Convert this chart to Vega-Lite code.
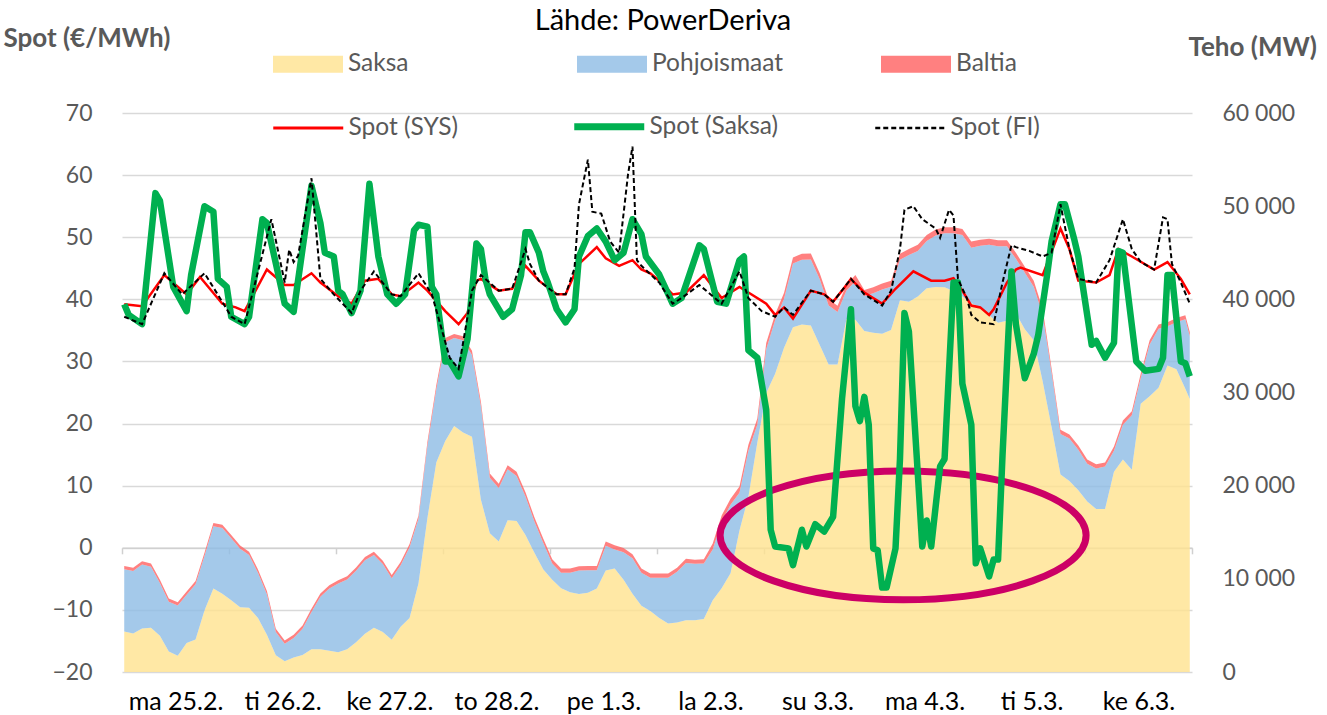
{
 "$schema": "https://vega.github.io/schema/vega-lite/v6.json",
 "width": 1070, "height": 559,
 "autosize": {"type": "none"},
 "padding": {"left": 122, "top": 113, "right": 135, "bottom": 43},
 "background": "white",
 "title": {"text": "Lähde: PowerDeriva", "font": "Lato", "fontSize": 29, "fontWeight": "normal", "color": "#000000", "anchor": "middle", "frame": "group", "dx": 6, "offset": -11},
 "config": {"view": {"stroke": null}, "font": "Lato"},
 "datasets": {
  "areas": [
   {"h":0,"Saksa":4340,"Pohjoismaat":6680,"Baltia":350},{"h":2,"Saksa":4130,"Pohjoismaat":6720,"Baltia":350},{"h":4,"Saksa":4680,"Pohjoismaat":6870,"Baltia":350},{"h":6,"Saksa":4740,"Pohjoismaat":6560,"Baltia":350},{"h":8,"Saksa":3900,"Pohjoismaat":5650,"Baltia":350},{"h":10,"Saksa":2200,"Pohjoismaat":5350,"Baltia":350},{"h":12,"Saksa":1750,"Pohjoismaat":5380,"Baltia":350},{"h":14,"Saksa":3100,"Pohjoismaat":5180,"Baltia":350},{"h":16,"Saksa":3500,"Pohjoismaat":5930,"Baltia":350},{"h":18,"Saksa":6600,"Pohjoismaat":5850,"Baltia":350},
   {"h":20,"Saksa":8960,"Pohjoismaat":6690,"Baltia":350},{"h":22,"Saksa":8400,"Pohjoismaat":7050,"Baltia":350},{"h":24,"Saksa":7700,"Pohjoismaat":6650,"Baltia":350},{"h":26,"Saksa":6950,"Pohjoismaat":6280,"Baltia":350},{"h":28,"Saksa":6900,"Pohjoismaat":5650,"Baltia":350},{"h":30,"Saksa":5800,"Pohjoismaat":4850,"Baltia":350},{"h":32,"Saksa":4000,"Pohjoismaat":4350,"Baltia":350},{"h":34,"Saksa":1800,"Pohjoismaat":2490,"Baltia":350},{"h":36,"Saksa":1150,"Pohjoismaat":1880,"Baltia":350},{"h":38,"Saksa":1560,"Pohjoismaat":2090,"Baltia":350},
   {"h":40,"Saksa":1830,"Pohjoismaat":2820,"Baltia":350},{"h":42,"Saksa":2450,"Pohjoismaat":4000,"Baltia":350},{"h":44,"Saksa":2450,"Pohjoismaat":5620,"Baltia":350},{"h":46,"Saksa":2280,"Pohjoismaat":6670,"Baltia":350},{"h":48,"Saksa":2130,"Pohjoismaat":7370,"Baltia":350},{"h":50,"Saksa":2430,"Pohjoismaat":7510,"Baltia":350},{"h":52,"Saksa":3200,"Pohjoismaat":7670,"Baltia":350},{"h":54,"Saksa":4100,"Pohjoismaat":7900,"Baltia":350},{"h":56,"Saksa":4740,"Pohjoismaat":7810,"Baltia":350},{"h":58,"Saksa":4300,"Pohjoismaat":7300,"Baltia":350},
   {"h":60,"Saksa":3450,"Pohjoismaat":6600,"Baltia":350},{"h":62,"Saksa":4850,"Pohjoismaat":6600,"Baltia":350},{"h":64,"Saksa":5800,"Pohjoismaat":7600,"Baltia":350},{"h":66,"Saksa":9500,"Pohjoismaat":6950,"Baltia":350},{"h":68,"Saksa":16500,"Pohjoismaat":7750,"Baltia":450},{"h":70,"Saksa":22500,"Pohjoismaat":7850,"Baltia":450},{"h":72,"Saksa":24800,"Pohjoismaat":10600,"Baltia":450},{"h":74,"Saksa":26400,"Pohjoismaat":9440,"Baltia":450},{"h":76,"Saksa":25700,"Pohjoismaat":9900,"Baltia":450},{"h":78,"Saksa":25240,"Pohjoismaat":8790,"Baltia":450},
   {"h":80,"Saksa":18500,"Pohjoismaat":10050,"Baltia":450},{"h":82,"Saksa":14900,"Pohjoismaat":5950,"Baltia":450},{"h":84,"Saksa":14000,"Pohjoismaat":5750,"Baltia":450},{"h":86,"Saksa":16300,"Pohjoismaat":5450,"Baltia":450},{"h":88,"Saksa":16200,"Pohjoismaat":4850,"Baltia":450},{"h":90,"Saksa":14700,"Pohjoismaat":4150,"Baltia":450},{"h":92,"Saksa":12800,"Pohjoismaat":3350,"Baltia":450},{"h":94,"Saksa":11000,"Pohjoismaat":2850,"Baltia":450},{"h":96,"Saksa":9900,"Pohjoismaat":1750,"Baltia":450},{"h":98,"Saksa":9000,"Pohjoismaat":1650,"Baltia":450},
   {"h":100,"Saksa":8560,"Pohjoismaat":2090,"Baltia":450},{"h":102,"Saksa":8380,"Pohjoismaat":2520,"Baltia":450},{"h":104,"Saksa":8500,"Pohjoismaat":2420,"Baltia":450},{"h":106,"Saksa":8950,"Pohjoismaat":1970,"Baltia":450},{"h":108,"Saksa":10900,"Pohjoismaat":2650,"Baltia":450},{"h":110,"Saksa":11100,"Pohjoismaat":2050,"Baltia":450},{"h":112,"Saksa":9900,"Pohjoismaat":2950,"Baltia":450},{"h":114,"Saksa":8400,"Pohjoismaat":3800,"Baltia":450},{"h":116,"Saksa":7100,"Pohjoismaat":3550,"Baltia":450},{"h":118,"Saksa":6550,"Pohjoismaat":3570,"Baltia":450},
   {"h":120,"Saksa":5800,"Pohjoismaat":4320,"Baltia":450},{"h":122,"Saksa":5200,"Pohjoismaat":4920,"Baltia":450},{"h":124,"Saksa":5300,"Pohjoismaat":5450,"Baltia":450},{"h":126,"Saksa":5550,"Pohjoismaat":6150,"Baltia":450},{"h":128,"Saksa":5550,"Pohjoismaat":6060,"Baltia":450},{"h":130,"Saksa":5700,"Pohjoismaat":5950,"Baltia":450},{"h":132,"Saksa":7700,"Pohjoismaat":5450,"Baltia":650},{"h":134,"Saksa":9000,"Pohjoismaat":7150,"Baltia":650},{"h":136,"Saksa":10600,"Pohjoismaat":7350,"Baltia":650},{"h":138,"Saksa":15200,"Pohjoismaat":4050,"Baltia":650},
   {"h":140,"Saksa":18800,"Pohjoismaat":4950,"Baltia":650},{"h":142,"Saksa":24600,"Pohjoismaat":1950,"Baltia":650},{"h":144,"Saksa":29950,"Pohjoismaat":4700,"Baltia":650},{"h":146,"Saksa":32000,"Pohjoismaat":5750,"Baltia":650},{"h":148,"Saksa":34800,"Pohjoismaat":5250,"Baltia":650},{"h":150,"Saksa":37000,"Pohjoismaat":6850,"Baltia":650},{"h":152,"Saksa":37300,"Pohjoismaat":6950,"Baltia":650},{"h":154,"Saksa":37200,"Pohjoismaat":7080,"Baltia":650},{"h":156,"Saksa":35100,"Pohjoismaat":7050,"Baltia":650},{"h":158,"Saksa":33000,"Pohjoismaat":6350,"Baltia":650},
   {"h":160,"Saksa":33000,"Pohjoismaat":5650,"Baltia":650},{"h":162,"Saksa":37900,"Pohjoismaat":3050,"Baltia":650},{"h":164,"Saksa":37800,"Pohjoismaat":4150,"Baltia":650},{"h":166,"Saksa":36600,"Pohjoismaat":3750,"Baltia":650},{"h":168,"Saksa":36400,"Pohjoismaat":4250,"Baltia":650},{"h":170,"Saksa":36300,"Pohjoismaat":4750,"Baltia":650},{"h":172,"Saksa":36700,"Pohjoismaat":4650,"Baltia":650},{"h":174,"Saksa":39900,"Pohjoismaat":4350,"Baltia":650},{"h":176,"Saksa":39750,"Pohjoismaat":5000,"Baltia":650},{"h":178,"Saksa":40300,"Pohjoismaat":4900,"Baltia":650},
   {"h":180,"Saksa":41200,"Pohjoismaat":5050,"Baltia":650},{"h":182,"Saksa":41315,"Pohjoismaat":5535,"Baltia":650},{"h":184,"Saksa":41300,"Pohjoismaat":5800,"Baltia":650},{"h":186,"Saksa":40900,"Pohjoismaat":6200,"Baltia":650},{"h":188,"Saksa":40300,"Pohjoismaat":6600,"Baltia":650},{"h":190,"Saksa":39600,"Pohjoismaat":5950,"Baltia":650},{"h":192,"Saksa":39100,"Pohjoismaat":6650,"Baltia":650},{"h":194,"Saksa":38300,"Pohjoismaat":7550,"Baltia":650},{"h":196,"Saksa":37500,"Pohjoismaat":8190,"Baltia":650},{"h":198,"Saksa":37700,"Pohjoismaat":7990,"Baltia":650},
   {"h":200,"Saksa":38500,"Pohjoismaat":5850,"Baltia":650},{"h":202,"Saksa":36800,"Pohjoismaat":6050,"Baltia":650},{"h":204,"Saksa":35600,"Pohjoismaat":5750,"Baltia":650},{"h":206,"Saksa":31200,"Pohjoismaat":7150,"Baltia":650},{"h":208,"Saksa":26300,"Pohjoismaat":5850,"Baltia":450},{"h":210,"Saksa":21200,"Pohjoismaat":4350,"Baltia":450},{"h":212,"Saksa":20500,"Pohjoismaat":4550,"Baltia":450},{"h":214,"Saksa":19500,"Pohjoismaat":4350,"Baltia":450},{"h":216,"Saksa":18300,"Pohjoismaat":4050,"Baltia":450},{"h":218,"Saksa":17500,"Pohjoismaat":4350,"Baltia":450},
   {"h":220,"Saksa":17500,"Pohjoismaat":4550,"Baltia":450},{"h":222,"Saksa":21500,"Pohjoismaat":2250,"Baltia":450},{"h":224,"Saksa":22800,"Pohjoismaat":3750,"Baltia":450},{"h":226,"Saksa":21700,"Pohjoismaat":5850,"Baltia":450},{"h":228,"Saksa":28800,"Pohjoismaat":2750,"Baltia":450},{"h":230,"Saksa":29600,"Pohjoismaat":5550,"Baltia":450},{"h":232,"Saksa":30500,"Pohjoismaat":6350,"Baltia":450},{"h":234,"Saksa":32900,"Pohjoismaat":4200,"Baltia":450},{"h":236,"Saksa":32500,"Pohjoismaat":5050,"Baltia":450},{"h":238,"Saksa":30400,"Pohjoismaat":7450,"Baltia":450},
   {"h":239,"Saksa":29300,"Pohjoismaat":6750,"Baltia":450}
  ],
  "sys": [
   {"h":0,"v":39.2},{"h":4,"v":38.9},{"h":9,"v":43.9},{"h":14,"v":40.8},{"h":17,"v":43.6},{"h":22,"v":39.3},{"h":25,"v":38.7},{"h":27,"v":38.1},{"h":32,"v":44.8},{"h":36,"v":42.3},{"h":38,"v":42.3},{"h":42,"v":44.2},{"h":44,"v":42.7},{"h":48,"v":40.5},{"h":51,"v":39.3},{"h":54,"v":43.0},{"h":57,"v":43.3},{"h":60,"v":40.8},{"h":62,"v":40.5},{"h":66,"v":42.7},{"h":68,"v":41.4},{"h":72,"v":38.1},{"h":75,"v":36.0},{"h":77,"v":37.8},{"h":79,"v":43.0},{"h":80,"v":43.3},{"h":84,"v":41.4},{"h":87,"v":41.7},{"h":90,"v":45.4},{"h":93,"v":43.0},{"h":97,"v":40.8},{"h":99,"v":40.8},{"h":102,"v":45.7},{"h":106,"v":48.4},{"h":108,"v":46.6},{"h":111,"v":45.4},{"h":114,"v":46.3},{"h":116,"v":44.8},{"h":118,"v":44.2},{"h":120,"v":43.0},{"h":123,"v":40.8},{"h":126,"v":41.1},{"h":130,"v":43.9},{"h":134,"v":40.2},{"h":138,"v":42.0},{"h":140,"v":41.1},{"h":144,"v":39.3},{"h":146,"v":37.5},{"h":148,"v":38.7},{"h":150,"v":36.9},{"h":154,"v":41.4},{"h":157,"v":40.8},{"h":159,"v":39.6},{"h":161,"v":41.4},{"h":163,"v":43.3},{"h":166,"v":41.1},{"h":170,"v":39.3},{"h":173,"v":41.7},{"h":177,"v":44.5},{"h":181,"v":43.0},{"h":184,"v":43.0},{"h":186,"v":43.4},{"h":188,"v":41.4},{"h":190,"v":39.0},{"h":192,"v":38.7},{"h":194,"v":37.5},{"h":195,"v":38.4},{"h":198,"v":42.7},{"h":200,"v":44.8},{"h":201,"v":45.1},{"h":206,"v":43.9},{"h":210,"v":51.4},{"h":212,"v":48.1},{"h":214,"v":43.0},{"h":218,"v":42.7},{"h":221,"v":43.9},{"h":223,"v":48.1},{"h":226,"v":46.9},{"h":231,"v":44.8},{"h":234,"v":46.0},{"h":237,"v":43.3},{"h":239,"v":40.8}
  ],
  "de": [
   {"h":0,"v":39.2},{"h":1,"v":37.5},{"h":4,"v":36.0},{"h":7,"v":57.1},{"h":8,"v":55.9},{"h":11,"v":42.0},{"h":14,"v":38.1},{"h":15,"v":43.9},{"h":18,"v":55.0},{"h":20,"v":54.1},{"h":21,"v":43.3},{"h":23,"v":42.0},{"h":24,"v":37.2},{"h":27,"v":36.0},{"h":28,"v":37.2},{"h":31,"v":52.9},{"h":32,"v":52.3},{"h":36,"v":39.3},{"h":38,"v":38.0},{"h":42,"v":58.3},{"h":44,"v":52.3},{"h":45,"v":47.5},{"h":47,"v":46.9},{"h":48,"v":41.4},{"h":49,"v":40.8},{"h":51,"v":37.8},{"h":53,"v":41.4},{"h":55,"v":58.6},{"h":57,"v":46.9},{"h":59,"v":40.8},{"h":61,"v":39.3},{"h":63,"v":40.8},{"h":65,"v":51.1},{"h":66,"v":52.0},{"h":68,"v":51.7},{"h":69,"v":42.0},{"h":70,"v":40.8},{"h":72,"v":30.0},{"h":73,"v":30.0},{"h":75,"v":27.6},{"h":77,"v":33.6},{"h":79,"v":49.0},{"h":80,"v":48.1},{"h":81,"v":43.3},{"h":82,"v":40.8},{"h":85,"v":37.2},{"h":87,"v":38.4},{"h":89,"v":43.9},{"h":90,"v":50.8},{"h":91,"v":50.8},{"h":93,"v":47.5},{"h":94,"v":44.5},{"h":95,"v":42.7},{"h":97,"v":38.4},{"h":99,"v":36.3},{"h":101,"v":38.4},{"h":102,"v":46.9},{"h":104,"v":50.2},{"h":106,"v":51.4},{"h":108,"v":49.3},{"h":110,"v":46.3},{"h":112,"v":47.5},{"h":114,"v":52.9},{"h":116,"v":50.5},{"h":117,"v":46.9},{"h":120,"v":44.0},{"h":123,"v":39.3},{"h":125,"v":40.2},{"h":129,"v":48.7},{"h":130,"v":48.1},{"h":133,"v":39.6},{"h":135,"v":39.3},{"h":138,"v":46.3},{"h":139,"v":46.9},{"h":140,"v":31.8},{"h":142,"v":30.6},{"h":144,"v":22.2},{"h":145,"v":2.9},{"h":146,"v":0.2},{"h":149,"v":-0.1},{"h":150,"v":-2.8},{"h":152,"v":2.9},{"h":153,"v":0.2},{"h":155,"v":3.8},{"h":157,"v":2.6},{"h":159,"v":5.0},{"h":161,"v":24.0},{"h":163,"v":38.4},{"h":164,"v":22.8},{"h":165,"v":20.4},{"h":166,"v":24.3},{"h":167,"v":19.8},{"h":168,"v":-0.1},{"h":169,"v":-0.4},{"h":170,"v":-6.4},{"h":171,"v":-6.4},{"h":173,"v":-0.1},{"h":174,"v":14.3},{"h":175,"v":37.8},{"h":176,"v":34.8},{"h":178,"v":11.9},{"h":179,"v":0.2},{"h":180,"v":4.4},{"h":181,"v":0.2},{"h":183,"v":13.1},{"h":184,"v":14.3},{"h":186,"v":42.7},{"h":187,"v":42.7},{"h":188,"v":26.4},{"h":190,"v":19.8},{"h":191,"v":-2.5},{"h":192,"v":-0.1},{"h":194,"v":-4.6},{"h":195,"v":-1.9},{"h":196,"v":-1.9},{"h":197,"v":14.9},{"h":199,"v":44.5},{"h":200,"v":36.0},{"h":202,"v":27.3},{"h":204,"v":31.2},{"h":205,"v":34.2},{"h":207,"v":43.9},{"h":208,"v":49.3},{"h":210,"v":55.3},{"h":211,"v":55.3},{"h":213,"v":49.9},{"h":214,"v":46.9},{"h":217,"v":32.7},{"h":218,"v":33.3},{"h":220,"v":30.6},{"h":222,"v":33.0},{"h":223,"v":47.8},{"h":224,"v":47.5},{"h":227,"v":30.0},{"h":229,"v":28.5},{"h":232,"v":28.8},{"h":233,"v":30.6},{"h":234,"v":43.9},{"h":235,"v":43.9},{"h":237,"v":30.0},{"h":238,"v":29.7},{"h":239,"v":27.6}
  ],
  "fi": [
   {"h":0,"v":37.2},{"h":4,"v":36.0},{"h":9,"v":44.2},{"h":13,"v":40.8},{"h":18,"v":44.2},{"h":22,"v":39.6},{"h":24,"v":37.2},{"h":27,"v":36.0},{"h":33,"v":52.9},{"h":36,"v":42.7},{"h":37,"v":48.0},{"h":38,"v":46.0},{"h":39,"v":47.0},{"h":42,"v":59.5},{"h":44,"v":43.3},{"h":47,"v":40.8},{"h":51,"v":37.8},{"h":53,"v":41.4},{"h":56,"v":44.5},{"h":60,"v":40.8},{"h":62,"v":40.5},{"h":66,"v":44.2},{"h":69,"v":40.8},{"h":73,"v":30.6},{"h":75,"v":28.8},{"h":78,"v":41.4},{"h":80,"v":43.9},{"h":84,"v":41.4},{"h":87,"v":41.7},{"h":90,"v":48.1},{"h":91,"v":45.7},{"h":93,"v":43.0},{"h":97,"v":40.8},{"h":99,"v":40.8},{"h":101,"v":45.0},{"h":102,"v":55.3},{"h":104,"v":62.5},{"h":105,"v":54.1},{"h":107,"v":53.8},{"h":109,"v":49.3},{"h":111,"v":47.5},{"h":113,"v":60.1},{"h":114,"v":64.6},{"h":115,"v":46.3},{"h":116,"v":45.4},{"h":120,"v":42.7},{"h":123,"v":39.3},{"h":125,"v":40.2},{"h":129,"v":42.3},{"h":134,"v":39.3},{"h":138,"v":44.5},{"h":140,"v":40.2},{"h":143,"v":38.1},{"h":146,"v":37.2},{"h":148,"v":38.7},{"h":150,"v":37.5},{"h":154,"v":41.4},{"h":157,"v":40.8},{"h":159,"v":39.6},{"h":163,"v":43.3},{"h":166,"v":40.8},{"h":170,"v":39.0},{"h":172,"v":41.4},{"h":174,"v":48.1},{"h":175,"v":54.4},{"h":177,"v":55.0},{"h":179,"v":52.9},{"h":182,"v":51.4},{"h":183,"v":49.9},{"h":185,"v":54.4},{"h":186,"v":53.5},{"h":187,"v":43.3},{"h":189,"v":40.2},{"h":190,"v":37.5},{"h":192,"v":36.3},{"h":195,"v":36.0},{"h":197,"v":42.7},{"h":199,"v":48.7},{"h":200,"v":48.4},{"h":203,"v":47.8},{"h":206,"v":46.9},{"h":208,"v":47.5},{"h":210,"v":55.3},{"h":212,"v":48.1},{"h":214,"v":43.3},{"h":218,"v":42.7},{"h":221,"v":46.3},{"h":224,"v":52.9},{"h":226,"v":48.1},{"h":228,"v":46.0},{"h":231,"v":44.8},{"h":233,"v":53.2},{"h":234,"v":52.9},{"h":235,"v":45.7},{"h":237,"v":42.7},{"h":239,"v":39.3}
  ],
  "ring": [{"h":174.7,"v":2}]
 },
 "layer": [
  {
   "data": {"name": "areas"},
   "transform": [{"fold": ["Saksa", "Pohjoismaat", "Baltia"], "as": ["key", "mw"]}],
   "mark": {"type": "area", "opacity": 0.8, "interpolate": "linear"},
   "encoding": {
    "x": {"field": "h", "type": "quantitative", "scale": {"domain": [-0.5, 239.5], "nice": false, "zero": false},
     "axis": {"orient": "bottom", "values": [11.5, 35.5, 59.5, 83.5, 107.5, 131.5, 155.5, 179.5, 203.5, 227.5],
      "labelExpr": "['ma 25.2.','ti 26.2.','ke 27.2.','to 28.2.','pe 1.3.','la 2.3.','su 3.3.','ma 4.3.','ti 5.3.','ke 6.3.'][floor(datum.value/24)]",
      "domain": false, "ticks": false, "grid": false, "title": null, "labelFont": "Lato", "labelFontSize": 25, "labelColor": "#000000", "labelPadding": 17}},
    "y": {"field": "mw", "type": "quantitative", "stack": "zero", "scale": {"domain": [0, 60000], "nice": false},
     "axis": {"orient": "right", "values": [0, 10000, 20000, 30000, 40000, 50000, 60000],
      "labelExpr": "replace(format(datum.value, ','), ',', ' ')",
      "grid": false, "domain": false, "ticks": false, "labelFont": "Lato", "labelFontSize": 23, "labelColor": "#595959", "labelPadding": 30,
      "title": "Teho (MW)", "titleAngle": 0, "titleAlign": "left", "titleBaseline": "alphabetic", "titleX": -4, "titleY": -58,
      "titleFont": "Lato", "titleFontSize": 26, "titleFontWeight": "bold", "titleColor": "#595959"}},
    "fill": {"field": "key", "type": "nominal",
     "scale": {"domain": ["Saksa", "Pohjoismaat", "Baltia"], "range": ["#FFE28F", "#8DBCE5", "#FF6060"]},
     "legend": {"orient": "none", "legendX": 151, "legendY": -84, "direction": "horizontal", "columns": 3, "gridAlign": "all", "columnPadding": 97,
      "symbolType": "M-1,-0.243H1V0.243H-1Z", "symbolSize": 4900, "symbolStrokeWidth": 0, "labelFont": "Lato", "labelFontSize": 24.5, "labelColor": "#595959", "labelOffset": 5, "title": null, "padding": 0}}
   }
  },
  {
   "encoding": {
    "x": {"field": "h", "type": "quantitative", "scale": {"domain": [-0.5, 239.5], "nice": false, "zero": false},
     "axis": {"orient": "bottom", "offset": -124.2, "values": [-0.5, 23.5, 47.5, 71.5, 95.5, 119.5, 143.5, 167.5, 191.5, 215.5, 239.5],
      "labels": false, "ticks": true, "tickSize": 6, "tickColor": "#D0D0D0", "tickWidth": 1.5, "domain": true, "domainColor": "#D0D0D0", "domainWidth": 1.5, "grid": false, "title": null}},
    "y": {"field": "v", "type": "quantitative", "scale": {"domain": [-20, 70], "nice": false},
     "axis": {"orient": "left", "values": [-20, -10, 0, 10, 20, 30, 40, 50, 60, 70], "grid": true, "gridColor": "#D9D9D9", "gridWidth": 1.5,
      "domain": false, "ticks": false, "labelFont": "Lato", "labelFontSize": 23, "labelColor": "#595959", "labelPadding": 30,
      "title": "Spot (€/MWh)", "titleAngle": 0, "titleAlign": "left", "titleBaseline": "alphabetic", "titleX": -119, "titleY": -67,
      "titleFont": "Lato", "titleFontSize": 26, "titleFontWeight": "bold", "titleColor": "#595959"}}
   },
   "layer": [
    {"data": {"name": "sys"}, "mark": {"type": "line", "strokeWidth": 2.5},
     "encoding": {"stroke": {"datum": "Spot (SYS)", "type": "nominal",
      "scale": {"domain": ["Spot (SYS)", "Spot (Saksa)", "Spot (FI)"], "range": ["#FF0000", "#00B050", "#000000"]},
      "legend": {"orient": "none", "legendX": 174, "legendY": 1, "direction": "horizontal", "columns": 3, "gridAlign": "all", "columnPadding": 82,
       "symbolType": "M-1,0H1", "symbolSize": 4900, "symbolStrokeWidth": 3, "labelFont": "Lato", "labelFontSize": 24.5, "labelColor": "#595959", "labelOffset": 28, "title": null, "padding": 0,
       "encode": {"symbols": {"update": {"strokeWidth": {"signal": "datum.value === 'Spot (Saksa)' ? 7 : (datum.value === 'Spot (FI)' ? 2.5 : 3)"}, "strokeDash": {"signal": "datum.value === 'Spot (FI)' ? [5, 3] : [1, 0]"}}}}}}}},
    {"data": {"name": "ring"}, "mark": {"type": "point", "shape": "M-1,0C-1,-0.1944,-0.5523,-0.352,0,-0.352C0.5523,-0.352,1,-0.1944,1,0C1,0.1944,0.5523,0.352,0,0.352C-0.5523,0.352,-1,0.1944,-1,0Z", "size": 133956, "filled": false, "stroke": "#CC0066", "strokeWidth": 7, "opacity": 1}},
    {"data": {"name": "de"}, "mark": {"type": "line", "strokeWidth": 6.5, "strokeJoin": "round"},
     "encoding": {"stroke": {"datum": "Spot (Saksa)", "type": "nominal"}}},
    {"data": {"name": "fi"}, "mark": {"type": "line", "strokeWidth": 2, "strokeDash": [5, 3]},
     "encoding": {"stroke": {"datum": "Spot (FI)", "type": "nominal"}}}
   ]
  }
 ],
 "resolve": {"scale": {"y": "independent"}, "axis": {"x": "independent"}}
}
